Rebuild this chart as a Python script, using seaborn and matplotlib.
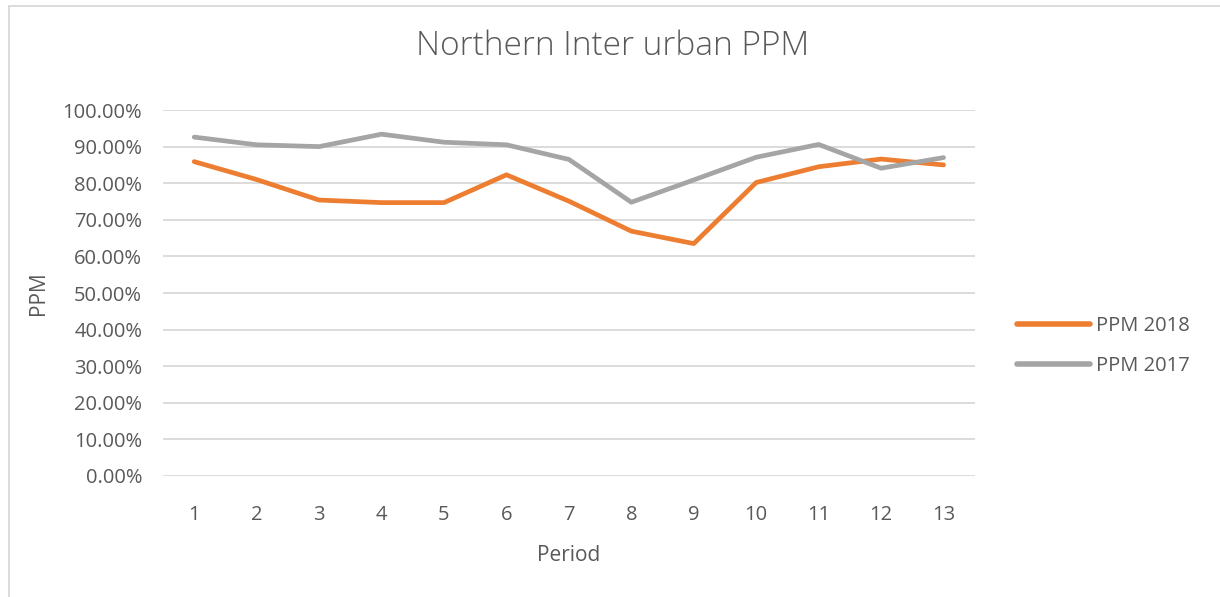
import pandas as pd
import matplotlib.pyplot as plt
import matplotlib.ticker as mticker
import seaborn as sns

# Values
periods = list(range(1, 14))
ppm_2018 = [0.859, 0.810, 0.754, 0.747, 0.747, 0.823, 0.751, 0.669, 0.635, 0.802, 0.845, 0.866, 0.850]
ppm_2017 = [0.926, 0.905, 0.900, 0.934, 0.912, 0.905, 0.865, 0.748, 0.809, 0.871, 0.906, 0.841, 0.870]
series_names = ["PPM 2018", "PPM 2017"]
series_colors = ["#ED7D31", "#A5A5A5"]

df = pd.DataFrame({
    "Period": periods * 2,
    "PPM": ppm_2018 + ppm_2017,
    "Series": [series_names[0]] * 13 + [series_names[1]] * 13,
})

sns.set_style("white")
plt.rcParams["font.family"] = ["Open Sans", "DejaVu Sans"]
text_color = "#595959"

fig = plt.figure(figsize=(12.2, 5.97), dpi=100)
ax = fig.add_axes([0.1336, 0.2027, 0.6654, 0.613])

sns.lineplot(data=df, x="Period", y="PPM", hue="Series", palette=series_colors,
             hue_order=series_names, linewidth=3.4, ax=ax, legend=True)
for line in ax.get_lines():
    line.set_solid_capstyle("round")
    line.set_solid_joinstyle("round")

ax.set_xlim(0.5, 13.5)
ax.set_ylim(0, 1.0)
ax.set_xticks(periods)
ax.set_yticks([i / 10 for i in range(11)])
ax.yaxis.set_major_formatter(mticker.FuncFormatter(lambda v, p: f"{v * 100:.2f}%"))
ax.grid(axis="y", color="#D9D9D9", linewidth=1.3)
ax.set_axisbelow(True)
for s in ax.spines.values():
    s.set_visible(False)
ax.tick_params(axis="both", length=0, labelsize=14.5, colors=text_color)
ax.tick_params(axis="y", pad=15)
ax.tick_params(axis="x", pad=21)

ax.set_xlabel("Period", fontsize=15, color=text_color, labelpad=14)
ax.set_ylabel("PPM", fontsize=15, color=text_color, labelpad=10)
fig.text(0.502, 0.923, "Northern Inter urban PPM", ha="center", va="center",
         fontsize=24, color=text_color, fontweight="light")

leg = ax.legend(loc="center left", bbox_to_anchor=(1.03, 0.355), frameon=False,
                fontsize=14.5, handlelength=3.6, handletextpad=0.3, labelspacing=1.0)
for t in leg.get_texts():
    t.set_color(text_color)
for h in leg.get_lines():
    h.set_linewidth(4)
    h.set_solid_capstyle("round")

# light chart border like the original
fig.patches.append(plt.Rectangle((0.007, -0.02), 1.1, 1.01, transform=fig.transFigure,
                                 fill=False, edgecolor="#D9D9D9", linewidth=1.3))

fig.savefig("out.png", dpi=100)
